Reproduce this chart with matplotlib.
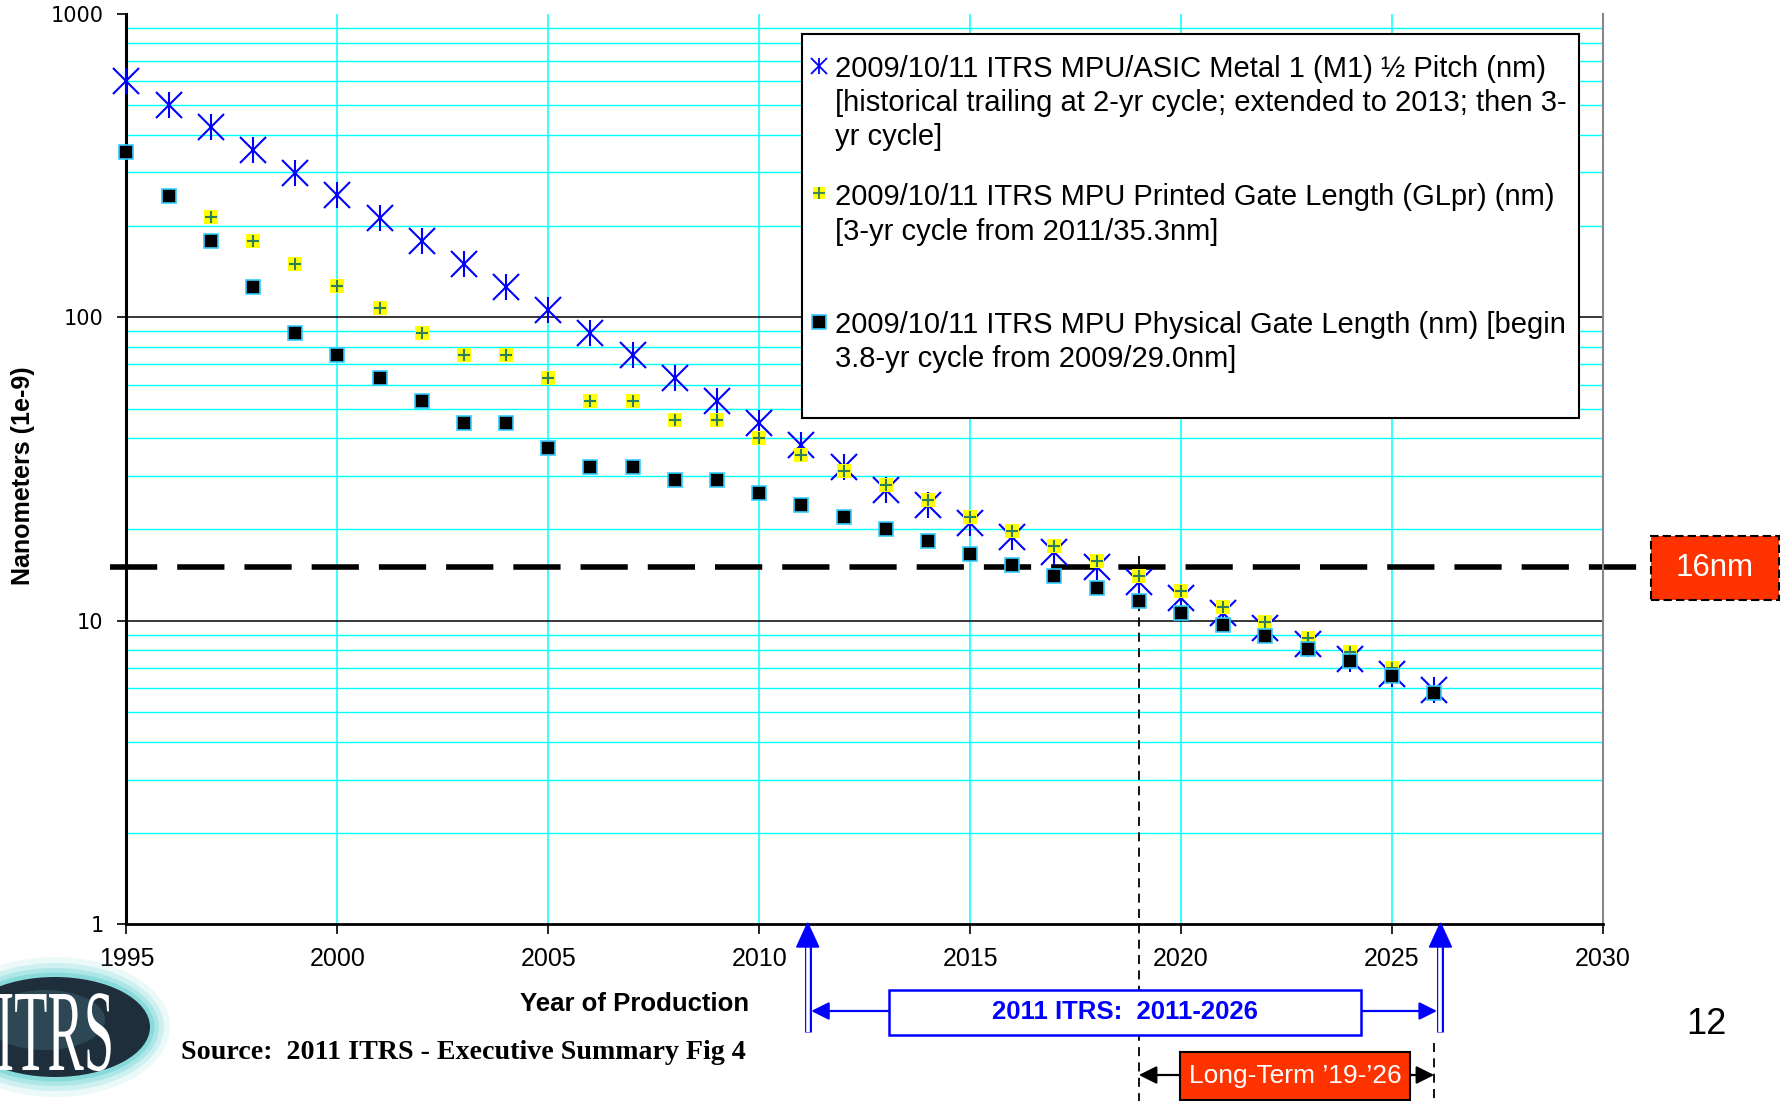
import matplotlib
matplotlib.use("Agg")
import matplotlib.pyplot as plt
from matplotlib.patches import Rectangle, Ellipse, Polygon, PathPatch
from matplotlib.lines import Line2D
from matplotlib.textpath import TextPath
from matplotlib.font_manager import FontProperties
from matplotlib.ticker import LogLocator, NullFormatter
from matplotlib.transforms import blended_transform_factory, Affine2D

# --- data ---
years_m1 = list(range(1995, 2027))
m1_half_pitch = [600, 502, 422, 355, 299, 252, 212, 178, 150, 126,
                 106, 89, 75, 63, 53, 45, 38, 32, 27, 24,
                 21, 18.9, 16.9, 15.0, 13.4, 11.9, 10.6, 9.5, 8.4, 7.5,
                 6.7, 5.9]

years_glpr = list(range(1997, 2026))
printed_gate = [214, 178, 150, 127, 107, 89, 75, 75, 63, 53,
                53, 46, 46, 40, 35.3, 31.2, 28, 25, 22, 19.8,
                17.7, 15.7, 14.0, 12.5, 11.1, 9.9, 8.8, 7.9, 7.0]

years_phys = list(range(1995, 2027))
physical_gate = [350, 250, 178, 126, 89, 75, 63, 53, 45, 45,
                 37, 32, 32, 29, 29, 26.3, 24.1, 21.9, 20.1, 18.3,
                 16.6, 15.3, 14.0, 12.8, 11.6, 10.6, 9.7, 8.9, 8.1, 7.4,
                 6.6, 5.8]

legend_text = [
    ["2009/10/11 ITRS MPU/ASIC Metal 1 (M1) \u00bd Pitch (nm)",
     "[historical trailing at 2-yr cycle; extended to 2013; then 3-",
     "yr cycle]"],
    ["2009/10/11 ITRS MPU Printed Gate Length (GLpr) (nm)",
     "[3-yr cycle from 2011/35.3nm]"],
    ["2009/10/11 ITRS MPU Physical Gate Length (nm) [begin",
     "3.8-yr cycle from 2009/29.0nm]"],
]

line_16nm = 15
itrs_span = (2011, 2026)
long_term = (2019, 2026)
x_ticks = list(range(1995, 2031, 5))
y_ticks = [1, 10, 100, 1000]

W_PX, H_PX = 1785, 1101
BLUE = "#0000FF"
RED = "#FF3300"

plt.rcParams["font.family"] = ["Liberation Sans", "DejaVu Sans"]


def fx(x):
    return x / W_PX


def fy(y):
    return 1 - y / H_PX


fig = plt.figure(figsize=(W_PX / 100, H_PX / 100), dpi=100)
ax = fig.add_axes([fx(126.4), fy(924.4), fx(1602.9) - fx(126.4), fy(13.7) - fy(924.4)])
ax.set_yscale("log")

# series
ax.plot(years_m1, m1_half_pitch, ls="none", marker="x", ms=19, mew=1.5,
        color=BLUE, clip_on=False, zorder=3)
ax.plot(years_m1, m1_half_pitch, ls="none", marker="|", ms=19, mew=1.5,
        color=BLUE, clip_on=False, zorder=3)
ax.plot(years_glpr, printed_gate, ls="none", marker="s", ms=9.8, mew=0,
        color="#FFFF00", clip_on=False, zorder=4)
ax.plot(years_glpr, printed_gate, ls="none", marker="+", ms=8.5, mew=1.5,
        color="#2E7D5B", clip_on=False, zorder=4)
ax.plot(years_phys, physical_gate, ls="none", marker="s", ms=10, mew=1.2,
        mfc="black", mec="#33CCFF", clip_on=False, zorder=5)

# 16nm line
ax.plot([1994.6, 2031.15], [line_16nm, line_16nm], color="black", lw=4.0,
        ls=(0, (8.5, 3.6)), clip_on=False, zorder=2.5)

ax.set_xlim(1995, 2030)
ax.set_ylim(1, 1000)
ax.set_xticks(x_ticks)
ax.set_yticks(y_ticks)
ax.set_yticklabels([str(v) for v in y_ticks])
ax.yaxis.set_minor_locator(LogLocator(base=10, subs=range(2, 10)))
ax.yaxis.set_minor_formatter(NullFormatter())
ax.tick_params(axis="x", labelsize=18, length=7, width=1.2, pad=9, direction="out")
ax.tick_params(axis="y", which="major", labelsize=15, length=6.5, width=1.2, pad=10)
ax.tick_params(axis="y", which="minor", length=0)
for lab in ax.get_yticklabels():
    lab.set_fontfamily("DejaVu Sans")

ax.set_axisbelow(True)
ax.xaxis.grid(True, color="#00FFFF", lw=1.1)
ax.yaxis.grid(True, which="minor", color="#00FFFF", lw=1.0)
for v in (10, 100):
    ax.axhline(v, color="black", lw=1.1, zorder=1)

ax.spines["top"].set_visible(False)
ax.spines["right"].set_color("#888888")
ax.spines["right"].set_linewidth(1.5)
ax.spines["left"].set_linewidth(2.2)
ax.spines["bottom"].set_linewidth(2.0)

# axis titles and footer texts
fig.text(fx(23), fy(476), "Nanometers (1e-9)", rotation=90, ha="center", va="center",
         fontsize=18, fontweight="bold")
fig.text(fx(635), fy(1004), "Year of Production", ha="center", va="center",
         fontsize=18.5, fontweight="bold")
fig.text(fx(181), fy(1059), "Source:  2011 ITRS - Executive Summary Fig 4", ha="left",
         va="baseline", fontsize=20.2, fontweight="bold", family="Liberation Serif")
fig.text(fx(1706), fy(1024), "12", ha="center", va="center", fontsize=26)

# legend (drawn by hand so markers sit at the first line)
fig.add_artist(Rectangle((fx(802), fy(418)), fx(1579) - fx(802), fy(34) - fy(418),
                         transform=fig.transFigure, fc="white", ec="black", lw=1.5, zorder=5))
baselines = [[76.7, 111, 145], [205, 240], [333, 367]]
for lines, ys in zip(legend_text, baselines):
    for txt, yb in zip(lines, ys):
        fig.text(fx(835), fy(yb), txt, ha="left", va="baseline", fontsize=21, zorder=6)
lx = fx(819)
for m in ("x", "|"):
    fig.add_artist(Line2D([lx], [fy(66)], marker=m, ms=12, mew=1.3, color=BLUE,
                          transform=fig.transFigure, zorder=6))
fig.add_artist(Line2D([lx], [fy(193)], marker="s", ms=8, mew=0, color="#FFFF00",
                      transform=fig.transFigure, zorder=6))
fig.add_artist(Line2D([lx], [fy(193)], marker="+", ms=8, mew=1.3, color="#2E7D5B",
                      transform=fig.transFigure, zorder=6))
fig.add_artist(Line2D([lx], [fy(322)], marker="s", ms=10, mew=1.2, mfc="black",
                      mec="#33CCFF", transform=fig.transFigure, zorder=6))

# 16nm label box
fig.add_artist(Rectangle((fx(1651), fy(600)), fx(1779) - fx(1651), fy(536) - fy(600),
                         transform=fig.transFigure, fc=RED, ec="black", lw=1.5,
                         ls=(0, (4, 2)), zorder=5))
fig.text(fx(1715), fy(568), "16nm", ha="center", va="center", fontsize=22.5,
         color="white", zorder=6)

# bottom annotations: x in years, y in figure fraction
trans = blended_transform_factory(ax.transData, fig.transFigure)
px_per_year = (1602.9 - 126.4) / 35

# long-term dashed markers
ax.add_artist(Line2D([long_term[0], long_term[0]], [fy(556), 0], transform=trans,
                     color="black", lw=1.3, ls=(0, (5, 3.5)), clip_on=False, zorder=2))
ax.add_artist(Line2D([long_term[1], long_term[1]], [fy(1043), 0], transform=trans,
                     color="black", lw=1.3, ls=(0, (5, 3.5)), clip_on=False, zorder=2))

# blue ITRS span arrows
shift = 0.15
for yr in itrs_span:
    xa = yr + shift
    fig.add_artist(Line2D([xa, xa], [fy(1032), fy(944)], transform=trans, color=BLUE,
                          lw=5.0, solid_capstyle="butt", zorder=6))
    fig.add_artist(Line2D([xa, xa], [fy(1032), fy(944)], transform=trans, color="white",
                          lw=2.6, solid_capstyle="butt", zorder=6))
    hw = 11 / px_per_year
    fig.add_artist(Polygon([(xa - hw, fy(947)), (xa + hw, fy(947)), (xa, fy(923))],
                           closed=True, transform=trans, fc=BLUE, ec=BLUE, zorder=6))

fig.add_artist(Rectangle((fx(889), fy(1035)), fx(1361) - fx(889), fy(990) - fy(1035),
                         transform=fig.transFigure, fc="white", ec=BLUE, lw=1.8, zorder=6))
fig.text(fx(1125), fy(1012), "2011 ITRS:  2011-2026", ha="center", va="center",
         fontsize=18.5, fontweight="bold", color=BLUE, zorder=7)

arrow_blue = dict(arrowstyle="-|>", color=BLUE, lw=1.6, mutation_scale=27,
                  shrinkA=0, shrinkB=0)
fig.add_artist(matplotlib.text.Annotation(
    "", xy=(itrs_span[0] + shift + 3.5 / px_per_year, fy(1011)), xycoords=trans,
    xytext=(fx(889), fy(1011)), textcoords="figure fraction", arrowprops=arrow_blue))
fig.add_artist(matplotlib.text.Annotation(
    "", xy=(itrs_span[1] + shift - 3.5 / px_per_year, fy(1011)), xycoords=trans,
    xytext=(fx(1361), fy(1011)), textcoords="figure fraction", arrowprops=arrow_blue))

# long-term red box and black arrows
fig.add_artist(Rectangle((fx(1180), fy(1100)), fx(1409.5) - fx(1180), fy(1052) - fy(1100),
                         transform=fig.transFigure, fc=RED, ec="black", lw=1.5, zorder=6))
fig.text(fx(1295), fy(1076), "Long-Term \u201919-\u201926", ha="center", va="center",
         fontsize=19, color="white", zorder=7)
arrow_black = dict(arrowstyle="-|>", color="black", lw=1.6, mutation_scale=27,
                   shrinkA=0, shrinkB=0)
fig.add_artist(matplotlib.text.Annotation(
    "", xy=(long_term[0], fy(1075)), xycoords=trans,
    xytext=(fx(1180), fy(1075)), textcoords="figure fraction", arrowprops=arrow_black))
fig.add_artist(matplotlib.text.Annotation(
    "", xy=(long_term[1], fy(1075)), xycoords=trans,
    xytext=(fx(1409.5), fy(1075)), textcoords="figure fraction", arrowprops=arrow_black))

# ITRS logo (approximation)
for grow, alpha in [(40, 0.12), (28, 0.2), (18, 0.3), (9, 0.45)]:
    fig.add_artist(Ellipse((fx(55), fy(1027)), (190 + grow) / W_PX, (100 + grow) / H_PX,
                           transform=fig.transFigure, fc="#5FCFCF", ec="none",
                           alpha=alpha, zorder=4))
fig.add_artist(Ellipse((fx(55), fy(1027)), 190 / W_PX, 100 / H_PX,
                       transform=fig.transFigure, fc="#1E2E3A", ec="none", zorder=4))
fig.add_artist(Ellipse((fx(45), fy(1020)), 120 / W_PX, 60 / H_PX,
                       transform=fig.transFigure, fc="#3A5868", ec="none", alpha=0.6, zorder=4))
tp = TextPath((0, 0), "ITRS", size=100, prop=FontProperties(family="Liberation Serif"))
logo_tf = Affine2D().scale(0.545 / W_PX, 1.16 / H_PX).translate(fx(-4), fy(1070)) + fig.transFigure
fig.add_artist(PathPatch(tp, transform=logo_tf, fc="white", ec="none", zorder=4.5))

fig.savefig("out.png", dpi=100)
